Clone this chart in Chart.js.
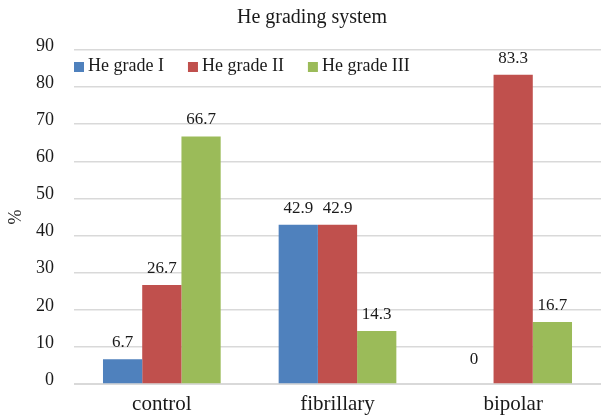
<!DOCTYPE html>
<html>
<head>
<meta charset="utf-8">
<script src="https://cdn.jsdelivr.net/npm/chart.js@4"></script>
<style>
  html, body { margin: 0; padding: 0; background: #fff; }
  #wrap { width: 601px; height: 419px; position: relative; }
</style>
</head>
<body>
<div id="wrap"><canvas id="chart"></canvas></div>
<script>
// ── Data ────────────────────────────────────────────────────────────
const categories = ['control', 'fibrillary', 'bipolar'];
const seriesNames = ['He grade I', 'He grade II', 'He grade III'];
const gradeI   = [6.7, 42.9, 0];
const gradeII  = [26.7, 42.9, 83.3];
const gradeIII = [66.7, 14.3, 16.7];
const colors = ['#4f81bd', '#c0504d', '#9bbb59'];
const titleText = 'He grading system';

const FONT = "'Liberation Serif', 'DejaVu Serif', serif";
const INK  = '#1a1a1a';

// title, drawn a bit right of canvas centre like the original
const titlePlugin = {
  id: 'titleText',
  afterDraw(chart) {
    const { ctx } = chart;
    ctx.save();
    ctx.font = `20px ${FONT}`;
    ctx.fillStyle = INK;
    ctx.textAlign = 'center';
    ctx.textBaseline = 'alphabetic';
    ctx.fillText(titleText, 312, 23);
    ctx.restore();
  },
};

// horizontal legend inside the plot area, between the 90 and 80 lines
const legendPlugin = {
  id: 'inlineLegend',
  afterDraw(chart) {
    const { ctx, chartArea } = chart;
    ctx.save();
    ctx.font = `18px ${FONT}`;
    ctx.fillStyle = INK;
    ctx.textBaseline = 'alphabetic';
    let x = chartArea.left;
    const yBox = chartArea.top + 12;
    chart.data.datasets.forEach(ds => {
      ctx.fillStyle = ds.backgroundColor;
      ctx.fillRect(x, yBox, 10, 10);
      ctx.fillStyle = INK;
      ctx.fillText(ds.label, x + 14, yBox + 9);
      x += 14 + ctx.measureText(ds.label).width + 24;
    });
    ctx.restore();
  },
};

// value labels above each bar
const valueLabels = {
  id: 'valueLabels',
  afterDatasetsDraw(chart) {
    const { ctx } = chart;
    ctx.save();
    ctx.font = `17px ${FONT}`;
    ctx.fillStyle = INK;
    ctx.textAlign = 'center';
    ctx.textBaseline = 'alphabetic';
    chart.data.datasets.forEach((ds, i) => {
      chart.getDatasetMeta(i).data.forEach((bar, j) => {
        const gap = ds.data[j] === 0 ? 20 : 12;
        ctx.fillText(String(ds.data[j]), bar.x, bar.y - gap);
      });
    });
    ctx.restore();
  },
};

new Chart(document.getElementById('chart'), {
  type: 'bar',
  data: {
    labels: categories,
    datasets: [gradeI, gradeII, gradeIII].map((d, i) => ({
      label: seriesNames[i],
      data: d,
      backgroundColor: colors[i],
      barPercentage: 1,
      categoryPercentage: 0.67,
    })),
  },
  options: {
    responsive: true,
    maintainAspectRatio: false,
    animation: false,
    layout: { padding: { top: 50, right: 0, left: 0, bottom: 0 } },
    plugins: {
      title: { display: false },
      legend: { display: false },
      tooltip: { enabled: false },
    },
    scales: {
      x: {
        grid: { display: false, drawTicks: false },
        border: { color: '#d9d9d9' },
        ticks: { color: INK, font: { family: FONT, size: 21 }, padding: 8 },
        afterFit: s => { s.height = 35; },
      },
      y: {
        min: 0,
        max: 90,
        ticks: { stepSize: 10, color: INK, font: { family: FONT, size: 18 }, padding: 20, labelOffset: -4 },
        grid: { color: '#d9d9d9', lineWidth: 1.5, drawTicks: false },
        border: { display: false },
        title: {
          display: true,
          text: '%',
          color: INK,
          font: { family: FONT, size: 18 },
          padding: { top: 5, bottom: 0 },
        },
        afterFit: s => { s.width = 74; },
      },
    },
  },
  plugins: [valueLabels, legendPlugin, titlePlugin],
});
</script>
</body>
</html>
